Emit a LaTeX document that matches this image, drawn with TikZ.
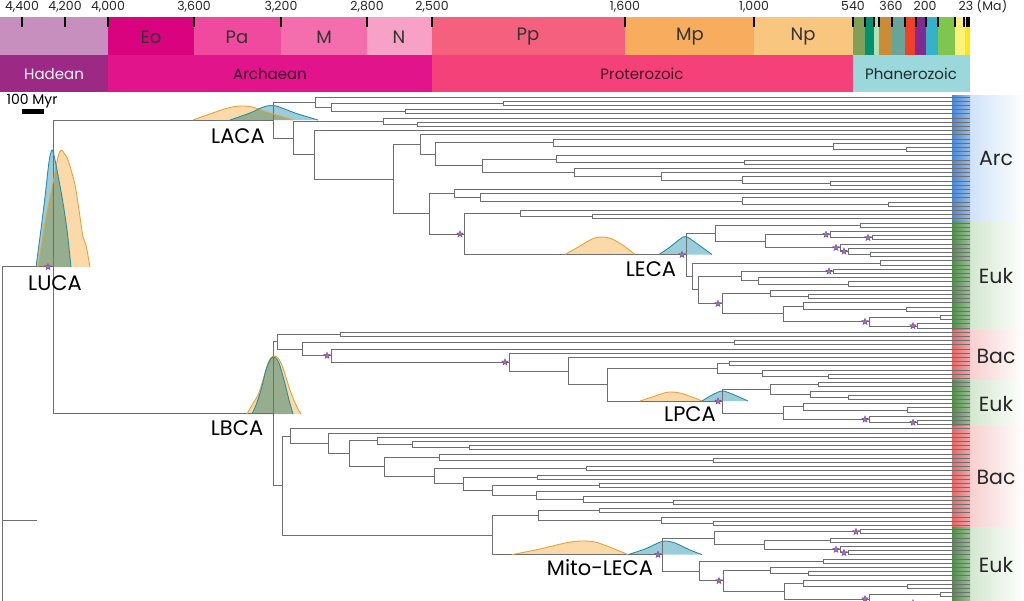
\documentclass[tikz,border=0pt]{standalone}
\usepackage{fontspec}
\setmainfont{Poppins}
\usetikzlibrary{shapes.geometric}

\definecolor{hadeanA}{HTML}{C78FBE}
\definecolor{hadeanB}{HTML}{9C2A85}
\definecolor{eoC}{HTML}{D9037F}
\definecolor{paC}{HTML}{EF4A9E}
\definecolor{mC}{HTML}{F46DAC}
\definecolor{nC}{HTML}{F7A1C6}
\definecolor{ppC}{HTML}{F5607F}
\definecolor{mpC}{HTML}{F7AC5E}
\definecolor{npC}{HTML}{F9C67F}
\definecolor{archC}{HTML}{E1148C}
\definecolor{protC}{HTML}{F5417A}
\definecolor{phanC}{HTML}{9BD8DB}
\definecolor{camC}{HTML}{7FA056}
\definecolor{ordC}{HTML}{009270}
\definecolor{silC}{HTML}{B3E1B6}
\definecolor{devC}{HTML}{CB8C37}
\definecolor{carC}{HTML}{67A599}
\definecolor{perC}{HTML}{F04028}
\definecolor{triC}{HTML}{812B92}
\definecolor{jurC}{HTML}{34B2C9}
\definecolor{creC}{HTML}{7FC64E}
\definecolor{palC}{HTML}{FAF27A}
\definecolor{neoC}{HTML}{FFE619}
\definecolor{treegrey}{HTML}{6E6E6E}
\definecolor{orgF}{HTML}{FBD9A8}
\definecolor{orgE}{HTML}{E6A33A}
\definecolor{bluF}{HTML}{9ACDD9}
\definecolor{bluE}{HTML}{2A8CA5}
\definecolor{starF}{HTML}{A46BC0}
\definecolor{starE}{HTML}{6D3F86}
\definecolor{arcS}{HTML}{4A88D6}
\definecolor{arcL}{HTML}{CFE2F9}
\definecolor{eukS}{HTML}{4E8E48}
\definecolor{eukL}{HTML}{D3E7CF}
\definecolor{bacS}{HTML}{E26767}
\definecolor{bacL}{HTML}{F8CFCF}

% age densities (orange = prior, blue = posterior)
\newcommand{\dLUCAo}{plot[smooth] coordinates {(38,267) (45,223) (53,183) (58,157) (61,150) (64,153) (68,160) (75,185) (80,217) (83,237) (86,245) (90,267)}}
\newcommand{\dLUCAb}{plot[smooth] coordinates {(36,267) (40,237) (45,197) (49,162) (52,150) (55,160) (62,197) (67,230) (71,267)}}
\newcommand{\dLACAo}{plot[smooth] coordinates {(193,120) (210,114) (228,108) (240,106) (252,107) (270,113) (293,120)}}
\newcommand{\dLACAb}{plot[smooth] coordinates {(230,120) (250,113) (262,107.5) (270,105.5) (278,106.5) (295,113) (318,120)}}
\newcommand{\dLECAo}{plot[smooth] coordinates {(565,254.5) (580,246) (592,239) (602,237) (612,239) (624,246) (635,254.5)}}
\newcommand{\dLECAb}{plot[smooth] coordinates {(659,254.5) (670,247) (680,239) (686,236.5) (696,243) (712,254.5)}}
\newcommand{\dLBCAo}{plot[smooth] coordinates {(247,414) (252,405) (258,395) (263,380) (268,363) (273,356) (278,358) (283,368) (290,390) (296,405) (301,414)}}
\newcommand{\dLBCAb}{plot[smooth] coordinates {(252,414) (256,405) (261,390) (266,370) (271,358.5) (275,357.5) (279,363) (284,380) (289,400) (293,414)}}
\newcommand{\dLPCAo}{plot[smooth] coordinates {(640,401) (655,396) (666,392.5) (672,392) (680,393) (692,397) (702,401)}}
\newcommand{\dLPCAb}{plot[smooth] coordinates {(702,401) (712,395) (722,391) (732,394) (748,401)}}
\newcommand{\dMLo}{plot[smooth] coordinates {(512,554.6) (540,549) (565,543) (580,541) (595,542) (612,548) (628,554.6)}}
\newcommand{\dMLb}{plot[smooth] coordinates {(628,554.6) (645,549) (658,543) (665,541) (675,543) (690,550) (702,554.6)}}

\begin{document}
\begin{tikzpicture}[x=1pt,y=-1pt,
    branch/.style={draw=treegrey,line width=.8pt},
    marker/.style={star,star points=5,star point ratio=2.3,minimum size=7pt,
      inner sep=0pt,fill=starF,draw=starE,line width=.3pt},
    anc/.style={font=\fontsize{21}{23}\selectfont,text=black,inner sep=0pt},
    grp/.style={font=\fontsize{20.5}{22}\selectfont,text=black!85,inner sep=0pt},
    tick/.style={font=\fontsize{12.5}{13}\selectfont,text=black!85,inner sep=0pt,anchor=base},
    era/.style={font=\fontsize{18}{20}\selectfont,text=black!80,inner sep=0pt},
    eon/.style={font=\fontsize{15}{17}\selectfont,inner sep=0pt},
    ofill/.style={fill=orgF},
    bfill/.style={fill=bluF,blend mode=multiply},
    oline/.style={draw=orgE,line width=.9pt},
    bline/.style={draw=bluE,line width=.9pt}]

  \useasboundingbox (0,0) rectangle (1024,600);
  \clip (0,0) rectangle (1024,600);
  \fill[white] (0,0) rectangle (1024,600);

  % geological time scale
  \fill[hadeanA] (0,17) rectangle (108,55);
  \fill[eoC] (108,17) rectangle (194,55);
  \fill[paC] (194,17) rectangle (281,55);
  \fill[mC] (281,17) rectangle (367,55);
  \fill[nC] (367,17) rectangle (432,55);
  \fill[ppC] (432,17) rectangle (625,55);
  \fill[mpC] (625,17) rectangle (754,55);
  \fill[npC] (754,17) rectangle (853,55);
  \foreach \c/\a/\b in {camC/853/865, ordC/865/874, silC/874/879, devC/879/892,
      carC/892/905, perC/905/915, triC/915/926, jurC/926/938, creC/938/955,
      palC/955/965, neoC/965/970}
    \fill[\c] (\a,17) rectangle (\b,55);
  \fill[hadeanB] (0,55) rectangle (108,92);
  \fill[archC] (108,55) rectangle (432,92);
  \fill[protC] (432,55) rectangle (853,92);
  \fill[phanC] (853,55) rectangle (970,92);
  \foreach \t in {22,65,108,194,281,367,432,625,754,853,865,874,879,892,905,916,926,938,955,964,967,969}
    \draw[line width=1.1pt] (\t,17) -- (\t,27);

  \node[tick] (tk4400) at (22,10.5) {4,400};
  \node[tick] (tk4200) at (65,10.5) {4,200};
  \node[tick] (tk4000) at (108,10.5) {4,000};
  \node[tick] (tk3600) at (194,10.5) {3,600};
  \node[tick] (tk3200) at (281,10.5) {3,200};
  \node[tick] (tk2800) at (367,10.5) {2,800};
  \node[tick] (tk2500) at (432,10.5) {2,500};
  \node[tick] (tk1600) at (625,10.5) {1,600};
  \node[tick] (tk1000) at (754,10.5) {1,000};
  \node[tick] (tk540) at (853,10.5) {540};
  \node[tick] (tk360) at (891,10.5) {360};
  \node[tick] (tk200) at (925,10.5) {200};
  \node[tick] (tk23) at (966,10.5) {23};
  \node[tick] (tkMa) at (992,10.5) {(Ma)};

  \node[era] (eo) at (151,37) {Eo};
  \node[era] (pa) at (237,37) {Pa};
  \node[era] (meso) at (324,37) {M};
  \node[era] (neo) at (399,37) {N};
  \node[era] (pp) at (528,37) {Pp};
  \node[era] (mp) at (690,37) {Mp};
  \node[era] (np) at (803,37) {Np};
  \node[eon,text=white!90!hadeanA] (hadean) at (54,74) {Hadean};
  \node[eon,text=black!75!archC] (archaean) at (270,74) {Archaean};
  \node[eon,text=black!70!protC] (proterozoic) at (642,74) {Proterozoic};
  \node[eon,text=black!80!phanC] (phanerozoic) at (911,74) {Phanerozoic};

  % scale bar
  \node[font=\fontsize{14}{15}\selectfont,inner sep=0pt] (myr) at (32,101) {100 Myr};
  \fill (22,109) rectangle (44,114);

  % clade strips
  \begin{scope}[shift={(0,97)},y=-4.2pt]
    \foreach \s/\l/\a/\b in {arcS/arcL/0/29, eukS/eukL/30/55, bacS/bacL/56/67,
        eukS/eukL/68/78, bacS/bacL/79/102, eukS/eukL/103/125} {
      \shade[left color=\l, right color=white] (970,\a-0.45) rectangle (1024,\b+0.45);
      \shade[left color=\s, right color=\s!55!white] (952,\a-0.45) rectangle (970,\b+0.45);
    }
  \end{scope}
  \node[grp] (gArc) at (996,158) {Arc};
  \node[grp] (gEukA) at (996,276) {Euk};
  \node[grp] (gBacA) at (996,356) {Bac};
  \node[grp] (gEukB) at (996,404) {Euk};
  \node[grp] (gBacB) at (996,477) {Bac};
  \node[grp] (gEukC) at (996,565) {Euk};

  % density fills
  \fill[ofill] \dLUCAo -- cycle;
  \fill[bfill] \dLUCAb -- cycle;
  \fill[ofill] \dLACAo -- cycle;
  \fill[bfill] \dLACAb -- cycle;
  \fill[ofill] \dLECAo -- cycle;
  \fill[bfill] \dLECAb -- cycle;
  \fill[ofill] \dLBCAo -- cycle;
  \fill[bfill] \dLBCAb -- cycle;
  \fill[ofill] \dLPCAo -- cycle;
  \fill[bfill] \dLPCAb -- cycle;
  \fill[ofill] \dMLo -- cycle;
  \fill[bfill] \dMLb -- cycle;

  % tree: x = node position, y = tip index
  \begin{scope}[shift={(0,97)},y=-4.2pt]
    \coordinate (root) at (2,40.45);
    \coordinate (LUCA) at (53,40.45);
    \coordinate (outg) at (37,100.7);
    \draw[branch] (root) -- (LUCA);
    \draw[branch] (root) -- (2,130);
    \draw[branch] (root |- outg) -- (outg);
    % node x / top y / top child x / bottom y / bottom child x (970 = tip)
    \foreach \x/\ya/\xa/\yb/\xb in {
        53/5.51/273/75.4/273,
        273/1.25/315/9.77/293, 315/0/970/2.5/331, 331/1.5/503/3.5/405,
        503/1/970/2/970, 405/3/970/4/970, 293/5.75/383/13.78/314,
        383/5/970/6.5/417, 417/6/970/7/970, 314/8/970/19.55/393,
        393/11.31/420/27.8/429, 420/9/970/13.61/435, 435/10.875/553/16.34/482,
        553/10/970/11.75/833, 833/11/970/12.5/906, 906/12/970/13/970,
        482/14.75/556/17.94/574, 556/14/970/15.5/744, 744/15/970/16/970,
        574/17/970/18.875/661, 661/18/970/19.75/742, 742/19/970/20.5/830,
        830/20/970/21/970, 429/22.94/454/32.65/464, 454/22/970/23.875/480,
        480/23/970/24.75/742, 742/24/970/25.5/888, 888/25/970/26/970,
        464/27.75/520/37.55/686, 520/27/970/28.5/592, 592/28/970/29/970,
        686/32.4/715/42.7/692, 715/30.5/860/34.31/765, 860/30/970/31/970,
        765/32.75/830/35.875/840, 830/32/970/33.5/872, 872/33/970/34/970,
        840/35/970/36.75/848, 848/36/970/37.5/870, 870/37/970/38/970,
        692/39.5/880/45.9/698, 880/39/970/40/970, 698/42.625/741/49.2/722,
        741/41.5/833/43.75/758, 833/41/970/42/970, 758/43/970/44.5/848,
        848/44/970/45/970, 722/46.75/770/51.6/783, 770/46/970/47.5/808,
        808/47/970/48/970, 783/49.75/803/53.5/869, 803/49/970/50.5/906,
        906/50/970/51/970, 869/52.5/940/54.5/917, 940/52/970/53/970,
        917/54/970/55/970,
        273/58.27/277/92.5/282, 277/56.5/340/60.03/302, 340/56/970/57/970,
        302/58.5/734/61.57/331, 734/58/970/59/970, 331/60/970/63.13/509,
        509/61/970/65.27/568, 568/62/970/68.53/607, 607/64.625/717/72.44/722,
        717/63.5/729/65.75/762, 729/63/970/64/970, 762/65/970/66.5/828,
        828/66/970/67/970, 722/69.625/770/75.25/783, 770/68.5/818/70.75/810,
        818/68/970/69/970, 810/70/970/71.5/848, 848/71/970/72/970,
        783/73.75/803/76.75/869, 803/73/970/74.5/907, 907/74/970/75/970,
        869/76/970/77.5/917, 917/77/970/78/970,
        282/80.74/290/104.29/492, 290/79/970/82.47/328, 328/80/970/84.95/349,
        349/81.875/377/88.02/384, 377/81/970/82.75/412, 412/82/970/83.5/469,
        469/83/970/84/970, 384/85.75/439/90.3/434, 439/85/970/86.5/713,
        713/86/970/87/970, 434/88.5/586/92.1/463, 586/88/970/89/970,
        463/90.5/537/93.69/492, 537/90/970/91/970, 492/92.5/599/94.875/536,
        599/92/970/93/970, 536/94/970/95.75/583, 583/95/970/96.5/673,
        673/96/970/97/970, 492/99.625/538/108.95/662, 538/98.5/599/100.75/661,
        599/98/970/99/970, 661/100/970/101.5/713, 713/101/970/102/970,
        662/105.05/714/112.85/699, 714/103.5/860/106.625/764, 860/103/970/104/970,
        764/105.5/830/107.75/840, 830/105/970/106/970, 840/107/970/108.5/848,
        848/108/970/109/970, 699/110.5/823/115.2/723, 823/110/970/111/970,
        723/112.75/770/117.625/784, 770/112/970/113.5/808, 808/113/970/114/970,
        784/115.75/803/119.5/869, 803/115/970/116.5/907, 907/116/970/117/970,
        869/118.5/940/120.5/917, 940/118/970/119/970, 917/120/970/121/970}
      \draw[branch] (\xa,\ya) -- (\x,\ya) -- (\x,\yb) -- (\xb,\yb);
  \end{scope}

  % density outlines
  \draw[oline] \dLUCAo;
  \draw[bline] \dLUCAb;
  \draw[oline] \dLACAo;
  \draw[bline] \dLACAb;
  \draw[oline] \dLECAo;
  \draw[bline] \dLECAb;
  \draw[oline] \dLBCAo;
  \draw[bline] \dLBCAb;
  \draw[oline] \dLPCAo;
  \draw[bline] \dLPCAb;
  \draw[oline] \dMLo;
  \draw[bline] \dMLb;

  % calibration stars
  \begin{scope}[shift={(0,97)},y=-4.2pt]
    \foreach \x/\y [count=\i] in {48/40.45, 460/32.65, 682/37.55, 826/32.75,
        868/33.5, 836/35.875, 844/36.75, 829/41.5, 718/49.2, 865/53.5, 913/54.5,
        327/61.57, 505/63.13, 718/72.44, 865/76.75, 913/77.5, 856/103.5,
        836/107.75, 844/108.5, 658/108.95, 719/115.2, 865/119.5, 913/120.5}
      \node[marker] (cal\i) at (\x,\y) {};
  \end{scope}

  \node[anc] (lblLUCA) at (55,283) {LUCA};
  \node[anc] (lblLACA) at (238,136) {LACA};
  \node[anc] (lblLECA) at (651,269) {LECA};
  \node[anc] (lblLBCA) at (237,428) {LBCA};
  \node[anc] (lblLPCA) at (690,414) {LPCA};
  \node[anc] (lblML) at (600,568) {Mito-LECA};
\end{tikzpicture}
\end{document}
